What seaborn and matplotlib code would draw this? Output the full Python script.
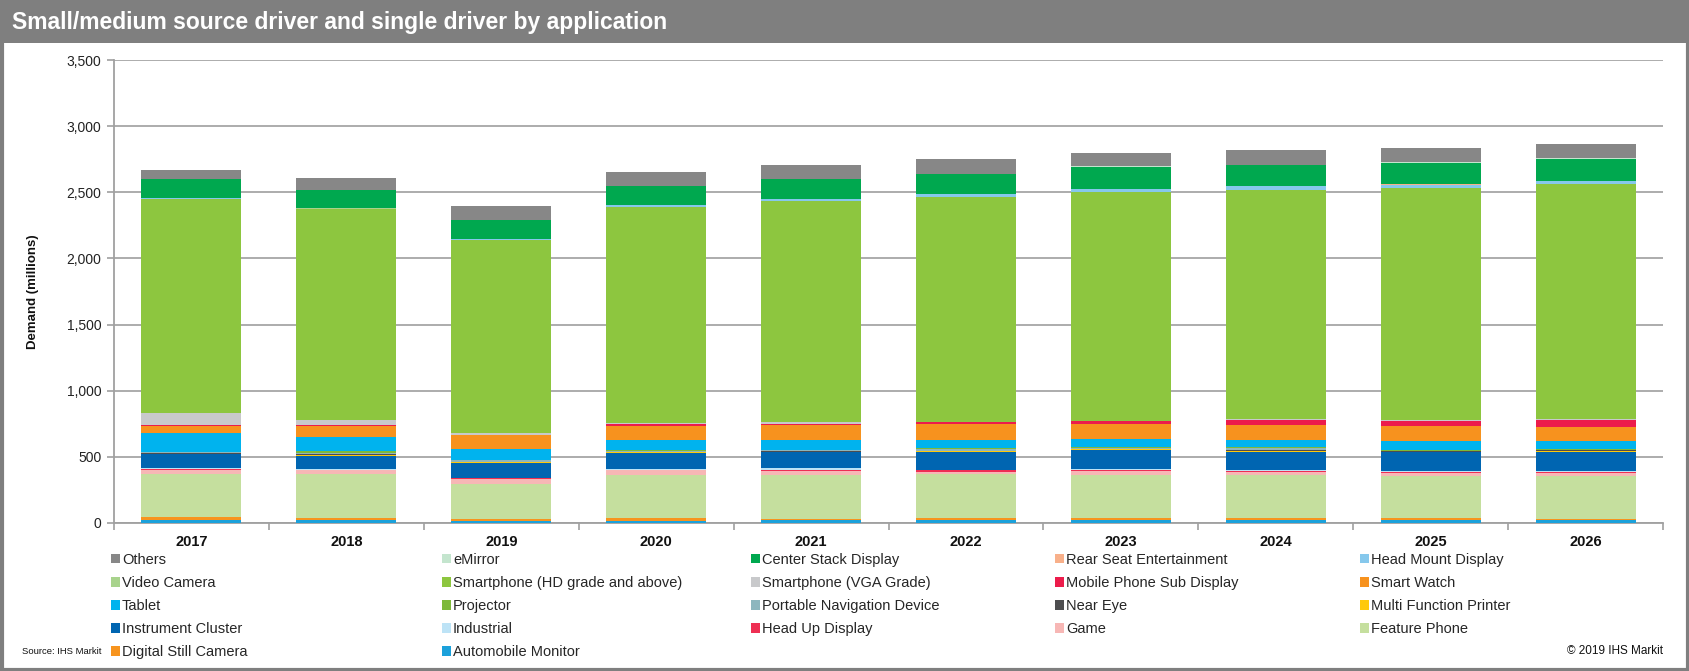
import numpy as np
import pandas as pd
import matplotlib
matplotlib.use("Agg")
import matplotlib.pyplot as plt
import seaborn as sns
from matplotlib import font_manager
from matplotlib.patches import Rectangle, Patch
from matplotlib.ticker import FuncFormatter, FixedLocator

# ---------------- data (millions) ----------------
years = ["2017", "2018", "2019", "2020", "2021", "2022", "2023", "2024", "2025", "2026"]

automobile_monitor   = [20, 22, 18, 18, 20, 20, 20, 20, 20, 20]
digital_still_camera = [25, 18, 12, 20, 13, 15, 15, 15, 15, 13]
feature_phone        = [329, 329, 266, 324, 331, 334, 329, 329, 321, 324]
game                 = [30, 30, 40, 35, 30, 20, 30, 18, 25, 18]
head_up_display      = [2, 3, 3, 6, 10, 10, 10, 13, 8, 14]
industrial           = [8, 5, 2, 7, 10, 5, 5, 5, 5, 6]
instrument_cluster   = [106, 101, 114, 121, 121, 134, 142, 139, 139, 144]
multi_function_printer = [5, 8, 6, 5, 5, 5, 5, 8, 6, 6]
near_eye             = [2, 3, 2, 3, 3, 4, 4, 5, 4, 4]
portable_navigation  = [6, 12, 10, 7, 7, 12, 6, 12, 5, 4]
projector            = [5, 10, 7, 5, 5, 7, 5, 8, 5, 4]
tablet               = [144, 109, 81, 73, 73, 63, 63, 58, 68, 61]
smart_watch          = [51, 86, 101, 109, 111, 119, 114, 111, 114, 111]
mobile_sub_display   = [8, 8, 6, 12, 13, 13, 20, 40, 38, 51]
smartphone_vga       = [91, 38, 12, 8, 8, 5, 5, 5, 8, 8]
smartphone_hd        = [1617, 1594, 1460, 1636, 1673, 1699, 1730, 1732, 1750, 1772]
video_camera         = [3, 2, 2, 2, 2, 2, 2, 2, 2, 2]
head_mount_display   = [2, 2, 3, 10, 15, 20, 20, 24, 25, 20]
rear_seat_ent        = [1, 1, 1, 1, 2, 2, 2, 2, 2, 2]
center_stack_display = [144, 138, 147, 143, 146, 151, 166, 159, 164, 169]
emirror              = [0, 0, 0, 1, 1, 2, 2, 2, 3, 3]
others               = [71, 91, 100, 109, 110, 109, 102, 113, 111, 111]

# stacking order, bottom -> top
series = [
    ("Automobile Monitor", automobile_monitor, "#1BA1DB"),
    ("Digital Still Camera", digital_still_camera, "#F7941E"),
    ("Feature Phone", feature_phone, "#C5DF9E"),
    ("Game", game, "#F7B7B5"),
    ("Head Up Display", head_up_display, "#EE2F53"),
    ("Industrial", industrial, "#BDE3F6"),
    ("Instrument Cluster", instrument_cluster, "#0065B1"),
    ("Multi Function Printer", multi_function_printer, "#FFC90A"),
    ("Near Eye", near_eye, "#4D4D4F"),
    ("Portable Navigation Device", portable_navigation, "#8DB6BE"),
    ("Projector", projector, "#7DB93A"),
    ("Tablet", tablet, "#00B3EE"),
    ("Smart Watch", smart_watch, "#F7921E"),
    ("Mobile Phone Sub Display", mobile_sub_display, "#EC1C4B"),
    ("Smartphone (VGA Grade)", smartphone_vga, "#C8C9CB"),
    ("Smartphone (HD grade and above)", smartphone_hd, "#8DC63F"),
    ("Video Camera", video_camera, "#A8D38C"),
    ("Head Mount Display", head_mount_display, "#86C8EC"),
    ("Rear Seat Entertainment", rear_seat_ent, "#F8B08A"),
    ("Center Stack Display", center_stack_display, "#00A84F"),
    ("eMirror", emirror, "#C4E5CE"),
    ("Others", others, "#878787"),
]

# ---------------- style ----------------
sns.set_theme(style="white")
names = {f.name for f in font_manager.fontManager.ttflist}
narrow = "Liberation Sans Narrow" if "Liberation Sans Narrow" in names else "Liberation Sans"
plt.rcParams["font.family"] = [narrow, "DejaVu Sans"]

W, H = 1690, 671
fig = plt.figure(figsize=(W / 100, H / 100), dpi=100)
fig.patch.set_facecolor("white")

# title bar and frame
fig.patches.append(Rectangle((0, 1 - 43 / H), 1, 43 / H, transform=fig.transFigure,
                             facecolor="#7F7F7F", edgecolor="none", zorder=0))
fig.patches.append(Rectangle((0.001, 0.002), 0.998, 0.996, transform=fig.transFigure,
                             facecolor="none", edgecolor="#7F7F7F", linewidth=3, zorder=5))
fig.text(12 / W, 1 - 22 / H, "Small/medium source driver and single driver by application",
         color="white", fontsize=16.5, fontweight="bold", va="center", ha="left")

left, right, top, bottom = 114, 1663, 60, 523
ax = fig.add_axes([left / W, 1 - bottom / H, (right - left) / W, (bottom - top) / H])

# stacked bars: draw cumulative totals top-down so lower layers overlay
cum = np.cumsum(np.array([s[1] for s in series], dtype=float), axis=0)
for i in range(len(series) - 1, -1, -1):
    df = pd.DataFrame({"year": years, "val": cum[i]})
    sns.barplot(data=df, x="year", y="val", color=series[i][2], saturation=1,
                width=0.645, errorbar=None, linewidth=0, ax=ax, zorder=3)

ax.set_ylim(0, 3500)
ax.set_xlim(-0.5, 9.5)
ax.set_yticks(np.arange(0, 3501, 500))
ax.yaxis.set_major_formatter(FuncFormatter(lambda v, p: f"{int(v):,}"))
ax.yaxis.grid(True, color="#A6A6A6", linewidth=1.3, zorder=0)
ax.set_axisbelow(True)
for sp in ["top", "right"]:
    ax.spines[sp].set_visible(False)
for sp in ["left", "bottom"]:
    ax.spines[sp].set_color("#A0A0A0")
    ax.spines[sp].set_linewidth(1.3)
ax.tick_params(axis="y", which="major", length=5, width=1.2, color="#A0A0A0",
               labelsize=10, labelcolor="#222222", pad=4, left=True)
ax.tick_params(axis="x", which="major", length=0, labelsize=10.5, labelcolor="#111111", pad=9)
ax.xaxis.set_minor_locator(FixedLocator(np.arange(-0.5, 10, 1)))
ax.tick_params(axis="x", which="minor", length=5, width=1.2, color="#A0A0A0", bottom=True)
for lab in ax.get_xticklabels():
    lab.set_fontweight("bold")
ax.set_xlabel("")
ax.set_ylabel("Demand (millions)", fontsize=9.5, fontweight="bold", labelpad=20, color="#111111")

# legend: 5 columns, rows read left-to-right in reverse stacking order
rev = series[::-1]
col_x = [111, 442, 751, 1055, 1360]
for c in range(5):
    items = [rev[r * 5 + c] for r in range(5) if r * 5 + c < len(rev)]
    handles = [Patch(facecolor=s[2], edgecolor="none") for s in items]
    labels = [s[0] for s in items]
    fig.legend(handles, labels, loc="upper left",
               bbox_to_anchor=(col_x[c] / W, 1 - 553 / H), bbox_transform=fig.transFigure,
               frameon=False, fontsize=10.5, handlelength=0.6, handleheight=0.6,
               handletextpad=0.15, labelspacing=0.62, borderpad=0, borderaxespad=0)

fig.text(22 / W, 1 - 651 / H, "Source: IHS Markit", fontsize=6.8, color="#111111",
         va="center", ha="left")
fig.text(1663 / W, 1 - 651 / H, "\u00a9 2019 IHS Markit", fontsize=8.5, color="#111111",
         va="center", ha="right")

fig.savefig("out.png", dpi=100)
